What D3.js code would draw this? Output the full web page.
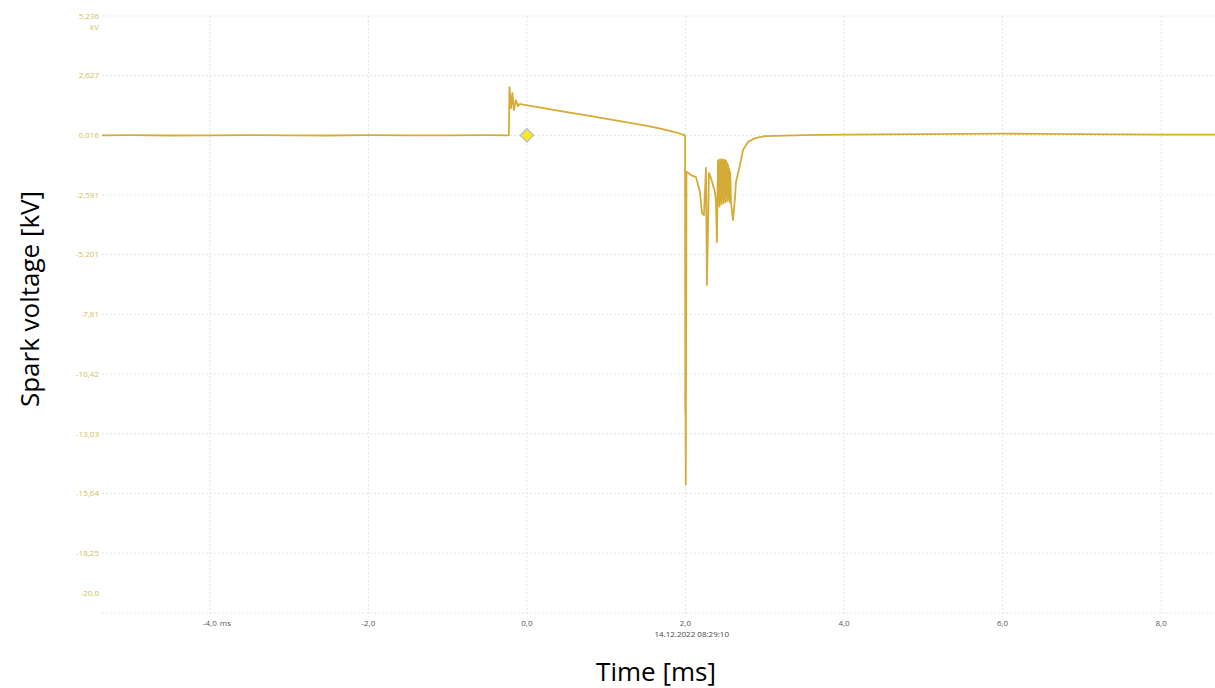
<!DOCTYPE html>
<html><head><meta charset="utf-8">
<script src="https://cdn.jsdelivr.net/npm/d3@7"></script>
<style>
html,body{margin:0;padding:0;background:#fff;}
svg{display:block;}
</style></head>
<body>
<svg id="chart" width="1215" height="688"></svg>
<script>
// ---- data ----
const timeMs = [
  -5.36, -5.0, -4.5, -4.0, -3.5, -3.0, -2.5, -2.0, -1.5, -1.0, -0.5, -0.24, -0.228,
  -0.220, -0.200, -0.183, -0.164, -0.139, -0.114, -0.088, -0.05,
  0.10, 0.30, 0.50, 0.70, 0.90, 1.10, 1.30, 1.50, 1.70, 1.90, 1.985,
  1.995, 1.998, 2.001, 2.004, 2.013, 2.069, 2.133, 2.183, 2.208, 2.233, 2.259, 2.271,
  2.297, 2.322, 2.372, 2.385, 2.397,
  2.410, 2.4165, 2.423, 2.4295, 2.436, 2.4425, 2.449, 2.4555, 2.462, 2.4685, 2.475,
  2.4815, 2.488, 2.4945, 2.501, 2.5075, 2.514, 2.5205, 2.527, 2.5335, 2.540, 2.5465,
  2.553, 2.5595, 2.566,
  2.574, 2.599, 2.625, 2.637, 2.688, 2.726, 2.789, 2.890, 3.003,
  3.5, 4.0, 4.5, 5.0, 5.5, 6.0, 6.5, 7.0, 7.5, 8.0, 8.68
];
const voltageKv = [
  0.02, 0.03, 0.01, 0.02, 0.03, 0.02, 0.01, 0.03, 0.02, 0.02, 0.03, 0.02, 0.02,
  2.13, 1.21, 1.87, 1.12, 1.56, 1.30, 1.39, 1.36,
  1.27, 1.15, 1.03, 0.92, 0.80, 0.68, 0.56, 0.44, 0.30, 0.13, 0.03,
  0.0, -12.1, -11.9, -15.25, -1.57, -1.72, -1.81, -2.46, -3.38, -3.47, -1.41, -6.53,
  -1.63, -1.85, -2.46, -2.90, -4.65,
  -1.10, -2.95, -1.05, -3.10, -1.15, -2.85, -1.02, -3.00, -1.08, -2.70, -1.05,
  -2.95, -1.12, -2.80, -1.06, -2.90, -1.10, -2.60, -1.20, -2.85, -1.30, -2.75,
  -1.45, -2.90, -1.60,
  -2.90, -3.69, -2.72, -2.02, -1.28, -0.62, -0.27, -0.09, -0.02,
  0.03, 0.05, 0.06, 0.07, 0.08, 0.09, 0.08, 0.07, 0.06, 0.05, 0.05
];
const yTickValues = [5.236, 2.627, 0.016, -2.591, -5.201, -7.81, -10.42, -13.03, -15.64, -18.25, -20.0];
const yTickLabels = ["5,236", "2,627", "0,016", "-2,591", "-5,201", "-7,81", "-10,42", "-13,03", "-15,64", "-18,25", "-20,0"];
const yGridValues = [5.236, 2.627, 0.016, -2.591, -5.201, -7.81, -10.42, -13.03, -15.64, -18.25];
const xTickValues = [-4, -2, 0, 2, 4, 6, 8];
const xTickLabels = ["-4,0", "-2,0", "0,0", "2,0", "4,0", "6,0", "8,0"];
const triggerMarker = [{t: 0, v: 0.016}];
const timestampLabel = "14.12.2022 08:29:10";

// ---- layout ----
const svg = d3.select("#chart");
const mLeft = 102, mRight = 1215, mTop = 16, mBottom = 613;
const x = d3.scaleLinear().domain([-5.36, 8.68]).range([mLeft, mRight]);
const y = d3.scaleLinear().domain([-20.87, 5.236]).range([mBottom, mTop]);

const gridColor = "#d9e7ee";

// horizontal grid
svg.append("g").selectAll("line").data(yGridValues.concat([-20.87])).join("line")
  .attr("x1", mLeft).attr("x2", mRight)
  .attr("y1", d => y(d)).attr("y2", d => y(d))
  .attr("stroke", gridColor).attr("stroke-width", 1).attr("stroke-dasharray", "2,2");

// vertical grid
svg.append("g").selectAll("line").data(xTickValues).join("line")
  .attr("x1", d => x(d)).attr("x2", d => x(d))
  .attr("y1", mTop).attr("y2", mBottom + 4)
  .attr("stroke", gridColor).attr("stroke-width", 1).attr("stroke-dasharray", "2,2");

// y tick labels
svg.append("g").selectAll("text").data(yTickValues).join("text")
  .attr("x", mLeft - 3).attr("y", d => y(d)).attr("dy", "0.35em")
  .attr("text-anchor", "end")
  .attr("font-family", "Open Sans, sans-serif").attr("font-size", 8)
  .attr("fill", "#d6bb55")
  .text((d, i) => yTickLabels[i]);
svg.append("text").attr("x", mLeft - 3).attr("y", y(5.236) + 14)
  .attr("text-anchor", "end")
  .attr("font-family", "Open Sans, sans-serif").attr("font-size", 8)
  .attr("fill", "#d6bb55").text("kV");

// x tick labels
svg.append("g").selectAll("text").data(xTickValues).join("text")
  .attr("x", d => x(d)).attr("y", mBottom + 13)
  .attr("text-anchor", "middle")
  .attr("font-family", "Open Sans, sans-serif").attr("font-size", 8)
  .attr("fill", "#555")
  .text((d, i) => xTickLabels[i]);
svg.append("text").attr("x", x(-4) + 10).attr("y", mBottom + 13)
  .attr("font-family", "Open Sans, sans-serif").attr("font-size", 8)
  .attr("fill", "#555").text("ms");
svg.append("text").attr("x", x(2) - 31).attr("y", mBottom + 24)
  .attr("font-family", "Open Sans, sans-serif").attr("font-size", 8)
  .attr("fill", "#444").text(timestampLabel);

// signal line
const pts = timeMs.map((t, i) => [t, voltageKv[i]]);
svg.append("path").datum(pts)
  .attr("fill", "none").attr("stroke", "#d5ab38").attr("stroke-width", 1.8)
  .attr("stroke-linejoin", "round")
  .attr("d", d3.line().x(d => x(d[0])).y(d => y(d[1])));

// trigger marker
svg.append("g").selectAll("path").data(triggerMarker).join("path")
  .attr("transform", d => `translate(${x(d.t)},${y(d.v)})`)
  .attr("d", d3.symbol(d3.symbolDiamond2, 115)())
  .attr("fill", "#f7e62a").attr("stroke", "#aebfd8").attr("stroke-width", 1.3);

// axis titles
svg.append("text")
  .attr("transform", `translate(39,299) rotate(-90)`)
  .attr("text-anchor", "middle")
  .attr("font-family", "Open Sans, sans-serif").attr("font-size", 26)
  .attr("fill", "#000").text("Spark voltage [kV]");
svg.append("text").attr("x", 656).attr("y", 681)
  .attr("text-anchor", "middle")
  .attr("font-family", "Open Sans, sans-serif").attr("font-size", 26)
  .attr("fill", "#000").text("Time [ms]");
</script>
</body></html>
